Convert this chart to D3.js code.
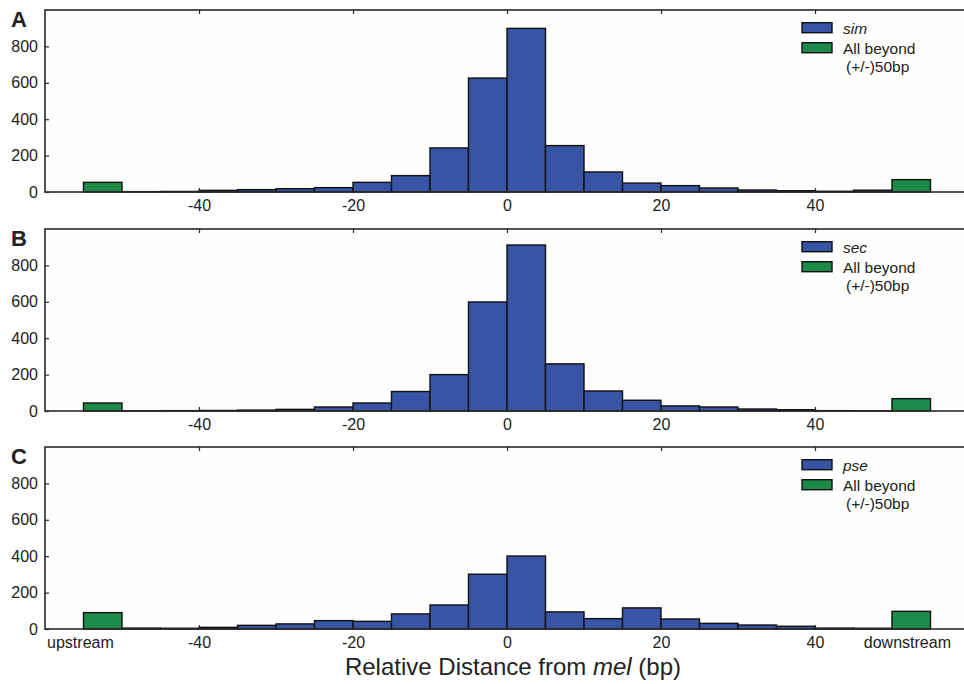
<!DOCTYPE html>
<html lang="en">
<head>
<meta charset="UTF-8">
<title>Relative distance from mel</title>
<script src="https://d3js.org/d3.v7.min.js"></script>
<style>
  body { margin: 0; background: #fff; }
  text { font-family: "Liberation Sans", Arial, sans-serif; fill: #222; }
  .plotbg { fill: #fefefc; }
  .frame { fill: none; stroke: #2a2a2a; stroke-width: 1.6px; }
  .bar { stroke: #111; stroke-width: 1.4px; }
  .tick line { stroke: #2a2a2a; stroke-width: 1.2px; }
</style>
</head>
<body>
<script>
// bin left edges (5 bp bins) and the two "beyond" bins
const binStarts = [-50, -45, -40, -35, -30, -25, -20, -15, -10, -5, 0, 5, 10, 15, 20, 25, 30, 35, 40, 45];
const beyondStarts = [-55, 50];

const panelLetters = ['A', 'B', 'C'];
const speciesNames = ['sim', 'sec', 'pse'];

const simCounts = [2, 3, 9, 13, 18, 24, 53, 90, 242, 626, 899, 255, 110, 49, 35, 22, 11, 7, 4, 10];
const secCounts = [1, 2, 3, 5, 9, 22, 44, 107, 200, 599, 912, 259, 110, 59, 28, 22, 11, 7, 2, 1];
const pseCounts = [5, 4, 9, 20, 28, 46, 42, 83, 132, 301, 401, 94, 57, 116, 55, 31, 22, 15, 5, 4];

const simBeyond = [53, 68];
const secBeyond = [44, 68];
const pseBeyond = [90, 97];

const xTicks = [-40, -20, 0, 20, 40];
const yTicks = [0, 200, 400, 600, 800];
const endLabels = ['upstream', 'downstream'];
const endLabelPos = [-55.4, 52];

const counts = [simCounts, secCounts, pseCounts];
const beyond = [simBeyond, secBeyond, pseBeyond];

const blue = '#3855a5';
const green = '#1e8a4a';
const binW = 5;

const width = 964, height = 684;
const svg = d3.select('body').append('svg')
    .attr('width', width)
    .attr('height', height);

const x = d3.scaleLinear().domain([-60, 60]).range([45, 969]);
const panelTops = [10, 229, 447];
const panelH = 182;
const y = d3.scaleLinear().domain([0, 1000]).range([panelH, 0]);

// plain hyphen for negatives, like the original
const fmt = d => String(d);

panelLetters.forEach((letter, i) => {
    const g = svg.append('g').attr('transform', `translate(0,${panelTops[i]})`);

    g.append('rect').attr('class', 'plotbg')
        .attr('x', x(-60)).attr('y', 0)
        .attr('width', x(60) - x(-60)).attr('height', panelH);

    // blue histogram
    g.append('g').selectAll('rect')
        .data(binStarts.map((s, j) => ({ s, v: counts[i][j] })))
        .enter().append('rect')
        .attr('class', 'bar')
        .attr('fill', blue)
        .attr('x', d => x(d.s))
        .attr('width', d => x(d.s + binW) - x(d.s))
        .attr('y', d => y(d.v))
        .attr('height', d => y(0) - y(d.v));

    // green "beyond" bins
    g.append('g').selectAll('rect')
        .data(beyondStarts.map((s, j) => ({ s, v: beyond[i][j] })))
        .enter().append('rect')
        .attr('class', 'bar')
        .attr('fill', green)
        .attr('x', d => x(d.s))
        .attr('width', d => x(d.s + binW) - x(d.s))
        .attr('y', d => y(d.v))
        .attr('height', d => y(0) - y(d.v));

    g.append('rect').attr('class', 'frame')
        .attr('x', x(-60)).attr('y', 0)
        .attr('width', x(60) - x(-60)).attr('height', panelH);

    // axes
    const xb = g.append('g')
        .attr('transform', `translate(0,${panelH})`)
        .call(d3.axisBottom(x).tickValues(xTicks).tickSize(-4).tickPadding(8).tickFormat(fmt))
        .attr('font-size', 16).attr('font-family', null);
    xb.select('.domain').remove();

    if (i === 2) {
        xb.selectAll('.endlabel')
            .data(endLabels)
            .enter().append('text')
            .attr('class', 'endlabel')
            .attr('x', (d, j) => x(endLabelPos[j]))
            .attr('y', 8)
            .attr('dy', '0.71em')
            .attr('text-anchor', 'middle')
            .text(d => d);
    }

    const xt = g.append('g')
        .call(d3.axisTop(x).tickValues(xTicks).tickSize(-4).tickFormat(''));
    xt.select('.domain').remove();

    const ya = g.append('g')
        .attr('transform', `translate(${x(-60)},0)`)
        .call(d3.axisLeft(y).tickValues(yTicks).tickSize(-4).tickPadding(7).tickFormat(fmt))
        .attr('font-size', 16).attr('font-family', null);
    ya.select('.domain').remove();
    ya.selectAll('text').attr('fill', '#222');
    xb.selectAll('text').attr('fill', '#222');

    // panel letter
    g.append('text')
        .attr('x', 11).attr('y', 17)
        .attr('font-size', 22).attr('font-weight', 'bold')
        .text(letter);

    // legend
    const lg = g.append('g');
    lg.append('rect').attr('class', 'bar').attr('fill', blue)
        .attr('x', 802).attr('y', 12.7).attr('width', 30).attr('height', 10);
    lg.append('rect').attr('class', 'bar').attr('fill', green)
        .attr('x', 802).attr('y', 32.7).attr('width', 30).attr('height', 10);
    lg.append('text').attr('x', 843).attr('y', 23.5)
        .attr('font-size', 15.5).attr('font-style', 'italic').attr('fill', '#333')
        .text(speciesNames[i]);
    lg.append('text').attr('x', 843).attr('y', 44)
        .attr('font-size', 15.5).attr('fill', '#333')
        .text('All beyond');
    lg.append('text').attr('x', 846).attr('y', 62)
        .attr('font-size', 15.5).attr('fill', '#333')
        .text('(+/-)50bp');
});

// x axis title
const title = svg.append('text')
    .attr('x', 513).attr('y', 675)
    .attr('text-anchor', 'middle')
    .attr('font-size', 24);
title.append('tspan').text('Relative Distance from ');
title.append('tspan').attr('font-style', 'italic').text('mel');
title.append('tspan').text(' (bp)');
</script>
</body>
</html>
